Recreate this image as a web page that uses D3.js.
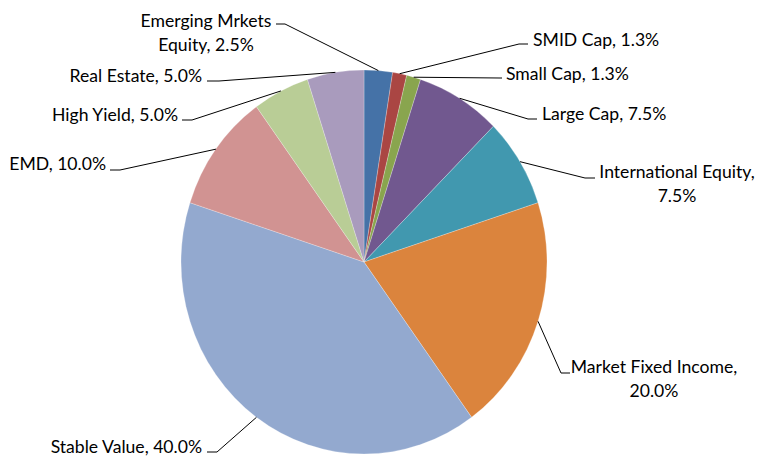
<!DOCTYPE html>
<html>
<head>
<meta charset="utf-8">
<script src="https://cdn.jsdelivr.net/npm/d3@7"></script>
<style>
body { margin: 0; background: #fff; }
text { font-family: Lato, "Liberation Sans", sans-serif; font-size: 17.6px; fill: #000; }
</style>
</head>
<body>
<div id="chart"></div>
<script>
// slices, clockwise from 12 o'clock
var names = ["Emerging Mrkets Equity", "SMID Cap", "Small Cap", "Large Cap", "International Equity",
             "Market Fixed Income", "Stable Value", "EMD", "High Yield", "Real Estate"];
var values = [2.5, 1.25, 1.25, 7.5, 7.5, 20, 40, 10, 5, 5];
var colors = ["#4572A7", "#AA4643", "#89A54E", "#71588F", "#4198AF",
              "#DB843D", "#93A9CF", "#D19392", "#B9CD96", "#A99BBD"];

// label placement (words on first line, 0 = one line)
var wrapAt = [2, 0, 0, 0, 2, 3, 0, 0, 0, 0];
var labelPos = [
  {x: 206, y: 26.5, anchor: "middle", elbow: [285, 24], end: [276, 24]},
  {x: 533, y: 46,   anchor: "start",  elbow: [519, 44], end: [528, 44]},
  {x: 506, y: 80,   anchor: "start",  elbow: [500, 78], end: [502, 78]},
  {x: 542, y: 120,  anchor: "start",  elbow: [528, 119], end: [537, 119]},
  {x: 677, y: 177.5, anchor: "middle", elbow: [585, 178], end: [595, 178]},
  {x: 654, y: 373,  anchor: "middle", elbow: [561, 373], end: [570, 373]},
  {x: 202, y: 453,  anchor: "end",    elbow: [217, 452], end: [207, 452]},
  {x: 106, y: 170,  anchor: "end",    elbow: [120, 170], end: [110, 170]},
  {x: 178, y: 121,  anchor: "end",    elbow: [192, 120], end: [182, 120]},
  {x: 202, y: 82,   anchor: "end",    elbow: [219, 81], end: [207, 81]}
];

var width = 761, height = 457;
var cx = 364, cy = 262, rx = 183, ry = 192;

var svg = d3.select("#chart").append("svg").attr("width", width).attr("height", height);

var data = names.map(function(n, i) { return {name: n, value: values[i], color: colors[i], i: i}; });
var pie = d3.pie().sort(null).value(function(d) { return d.value; });
var arcs = pie(data);
var arc = d3.arc().innerRadius(0).outerRadius(rx);

svg.append("g")
  .attr("transform", "translate(" + cx + "," + cy + ") scale(1," + (ry / rx) + ")")
  .selectAll("path")
  .data(arcs).enter()
  .append("path")
  .attr("d", arc)
  .style("fill", function(d) { return d.data.color; })
  .style("stroke", "#fff").style("stroke-width", 0.4).style("stroke-opacity", 0.6);

// leader lines
svg.append("g").selectAll("path")
  .data(arcs).enter()
  .append("path")
  .attr("d", function(d) {
    var a = (d.startAngle + d.endAngle) / 2;
    var p = labelPos[d.data.i];
    var sx = cx + rx * Math.sin(a), sy = cy - ry * Math.cos(a);
    return "M" + sx + "," + sy + "L" + p.elbow[0] + "," + p.elbow[1] + "L" + p.end[0] + "," + p.end[1];
  })
  .style("fill", "none").style("stroke", "#000").style("stroke-width", 1);

// labels
var lbl = svg.append("g").selectAll("text")
  .data(arcs).enter()
  .append("text")
  .attr("text-anchor", function(d) { return labelPos[d.data.i].anchor; });

lbl.each(function(d) {
  var p = labelPos[d.data.i];
  var full = d.data.name + ", " + d.data.value.toFixed(1) + "%";
  var words = full.split(" ");
  var lines = wrapAt[d.data.i] ? [words.slice(0, wrapAt[d.data.i]).join(" "), words.slice(wrapAt[d.data.i]).join(" ")] : [full];
  var t = d3.select(this);
  lines.forEach(function(s, k) {
    t.append("tspan").attr("x", p.x).attr("y", p.y + k * 24).text(s);
  });
});
</script>
</body>
</html>
